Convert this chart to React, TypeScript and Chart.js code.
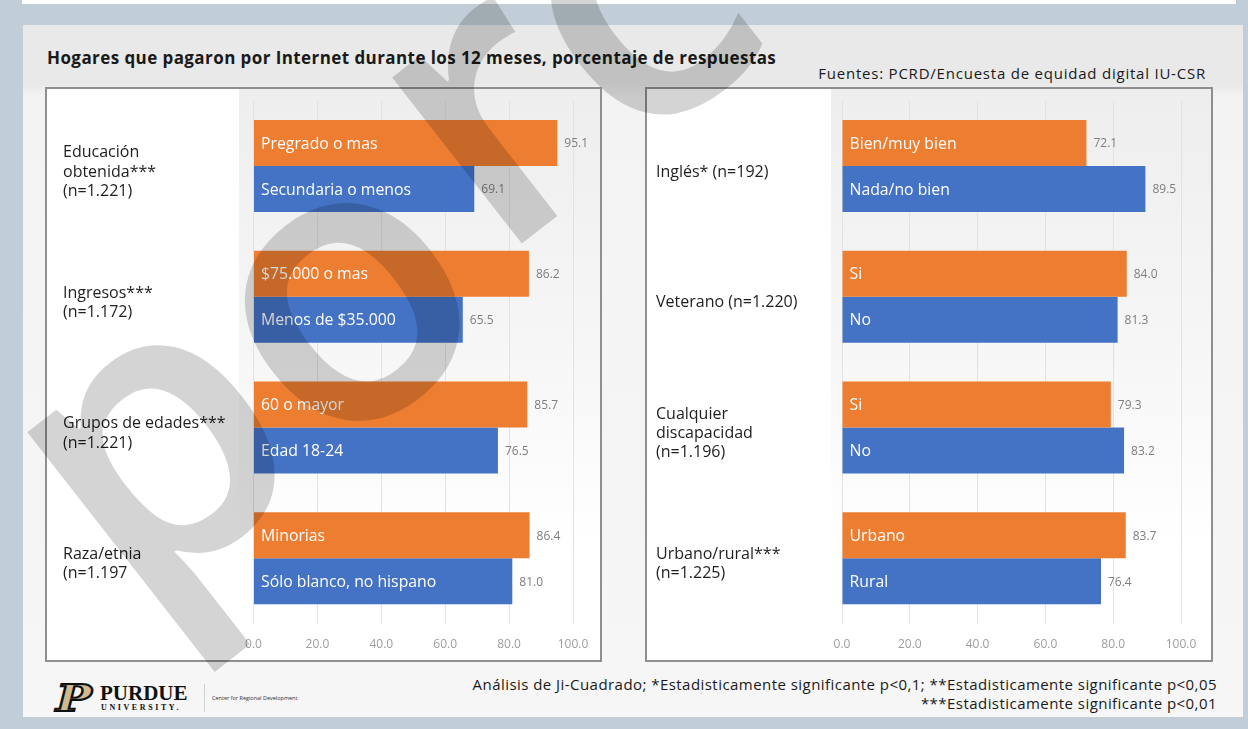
import React, { useEffect, useRef } from 'react';
import { Chart, registerables } from 'chart.js';

Chart.register(...registerables);

// ---------- data ----------
const leftCategories = [
  ['Educación', 'obtenida***', '(n=1.221)'],
  ['Ingresos***', '(n=1.172)'],
  ['Grupos de edades***', '(n=1.221)'],
  ['Raza/etnia', '(n=1.197'],
];
const leftTopLabels = ['Pregrado o mas', '$75.000 o mas', '60 o mayor', 'Minorias'];
const leftTopValues = [95.1, 86.2, 85.7, 86.4];
const leftBottomLabels = ['Secundaria o menos', 'Menos de $35.000', 'Edad 18-24', 'Sólo blanco, no hispano'];
const leftBottomValues = [69.1, 65.5, 76.5, 81.0];

const rightCategories = [
  ['Inglés* (n=192)'],
  ['Veterano (n=1.220)'],
  ['Cualquier', 'discapacidad', '(n=1.196)'],
  ['Urbano/rural***', '(n=1.225)'],
];
const rightTopLabels = ['Bien/muy bien', 'Si', 'Si', 'Urbano'];
const rightTopValues = [72.1, 84.0, 79.3, 83.7];
const rightBottomLabels = ['Nada/no bien', 'No', 'No', 'Rural'];
const rightBottomValues = [89.5, 81.3, 83.2, 76.4];

const xMin = 0;
const xMax = 100;
const xStep = 20;

const titleText = 'Hogares que pagaron por Internet durante los 12 meses, porcentaje de respuestas';
const sourceText = 'Fuentes: PCRD/Encuesta de equidad digital IU-CSR';
const noteLine1 = 'Análisis de Ji-Cuadrado; *Estadisticamente significante p<0,1; **Estadisticamente significante p<0,05';
const noteLine2 = '***Estadisticamente significante p<0,01';
const watermarkHead = 'po';
const watermarkTail = 'rcentaje';

const ORANGE = '#ED7D31';
const BLUE = '#4472C4';
const FONT = '"Open Sans", "Noto Sans", sans-serif';

const barLabelsPlugin = {
  id: 'barLabels',
  afterDatasetsDraw(chart: any, _args: any, opts: any) {
    const ctx = chart.ctx;
    const names: string[][] = opts.names || [];
    chart.data.datasets.forEach((ds: any, di: number) => {
      const meta = chart.getDatasetMeta(di);
      meta.data.forEach((bar: any, i: number) => {
        const p = bar.getProps(['x', 'y', 'base'], true);
        ctx.save();
        ctx.textBaseline = 'middle';
        ctx.textAlign = 'left';
        ctx.font = '15.8px ' + FONT;
        ctx.fillStyle = '#ffffff';
        if (names[di]) ctx.fillText(names[di][i], p.base + 7, p.y + 1);
        ctx.font = '12px ' + FONT;
        ctx.fillStyle = '#7e7e7e';
        ctx.fillText(Number(ds.data[i]).toFixed(1), p.x + 7, p.y + 1);
        ctx.restore();
      });
    });
  },
};

type PanelProps = {
  categories: string[][];
  topLabels: string[];
  topValues: number[];
  bottomLabels: string[];
  bottomValues: number[];
  width: number;
  height: number;
  padLeft: number;
  padRight: number;
  padTop: number;
  yAxisWidth: number;
  xAxisHeight: number;
};

function BarPanel(props: PanelProps) {
  const ref = useRef<HTMLCanvasElement>(null);
  useEffect(() => {
    if (!ref.current) return;
    const chart = new Chart(ref.current, {
      type: 'bar',
      data: {
        labels: props.categories as any,
        datasets: [
          { data: props.topValues, backgroundColor: ORANGE, categoryPercentage: 0.704, barPercentage: 1 },
          { data: props.bottomValues, backgroundColor: BLUE, categoryPercentage: 0.704, barPercentage: 1 },
        ],
      },
      options: {
        indexAxis: 'y',
        responsive: false,
        animation: false,
        layout: { padding: { left: props.padLeft, right: props.padRight, top: props.padTop, bottom: 0 } },
        plugins: {
          legend: { display: false },
          tooltip: { enabled: false },
          barLabels: { names: [props.topLabels, props.bottomLabels] },
        } as any,
        scales: {
          x: {
            min: xMin,
            max: xMax,
            ticks: {
              stepSize: xStep,
              callback: (v: any) => Number(v).toFixed(1),
              color: '#9e9e9e',
              font: { family: FONT, size: 12 },
              padding: 14,
            },
            grid: { color: '#e2e2e2', drawTicks: false },
            border: { display: false },
            afterFit: (s: any) => { s.height = props.xAxisHeight; s.paddingLeft = 0; s.paddingRight = 0; },
          },
          y: {
            ticks: {
              crossAlign: 'far',
              color: '#1e1e1e',
              font: { family: FONT, size: 16, lineHeight: 1.2 },
              labelOffset: 6,
              padding: 0,
            },
            grid: { display: false },
            border: { display: false },
            afterFit: (s: any) => { s.width = props.yAxisWidth; s.paddingTop = 0; s.paddingBottom = 0; },
          },
        },
      } as any,
      plugins: [barLabelsPlugin],
    });
    return () => chart.destroy();
  }, []);
  return <canvas ref={ref} width={props.width} height={props.height} style={{ display: 'block', width: props.width, height: props.height }} />;
}

const abs = (l: number, t: number, w: number, h: number, extra: any = {}) => ({
  position: 'absolute' as const, left: l, top: t, width: w, height: h, ...extra,
});

export default function App() {
  useEffect(() => {
    document.body.style.margin = '0';
  }, []);
  return (
    <div style={{ position: 'fixed', left: 0, top: 0, width: 1248, height: 729, overflow: 'hidden', background: '#c2ced7', fontFamily: FONT }}>
      {/* top white strip */}
      <div style={abs(22, 0, 1214, 4, { background: '#ffffff' })} />
      {/* main panel */}
      <div style={abs(23, 25, 1220, 692, { background: 'linear-gradient(#e9e9e9 0px, #e9e9e9 58px, #f3f3f3 72px, #f6f6f6 100%)' })} />

      {/* title & source */}
      <div style={abs(47, 46, 820, 24, { fontSize: 17, fontWeight: 700, lineHeight: '24px', color: '#1a1a1a', whiteSpace: 'nowrap', letterSpacing: 0.42 })}>{titleText}</div>
      <div style={abs(600, 63, 606, 20, { fontSize: 15, lineHeight: '20px', color: '#1a1a1a', whiteSpace: 'nowrap', textAlign: 'right', letterSpacing: 0.78 })}>{sourceText}</div>

      {/* left box */}
      <div style={abs(45, 87, 557, 575, { background: '#ffffff', border: '2px solid #8f8f8f', boxSizing: 'border-box' })}>
        <div style={abs(192, 0, 361, 571, { background: 'linear-gradient(#eeeeee 0%, #f6f6f6 45%, #ffffff 80%)' })} />
        <div style={abs(0, 0, 553, 571)}>
          <BarPanel
            categories={leftCategories}
            topLabels={leftTopLabels}
            topValues={leftTopValues}
            bottomLabels={leftBottomLabels}
            bottomValues={leftBottomValues}
            width={553}
            height={571}
            padLeft={16}
            padRight={27}
            padTop={11.7}
            yAxisWidth={190.5}
            xAxisHeight={36.5}
          />
        </div>
      </div>

      {/* right box */}
      <div style={abs(645, 87, 568, 575, { background: '#ffffff', border: '2px solid #8f8f8f', boxSizing: 'border-box' })}>
        <div style={abs(184, 0, 380, 571, { background: 'linear-gradient(#eeeeee 0%, #f6f6f6 45%, #ffffff 80%)' })} />
        <div style={abs(0, 0, 564, 571)}>
          <BarPanel
            categories={rightCategories}
            topLabels={rightTopLabels}
            topValues={rightTopValues}
            bottomLabels={rightBottomLabels}
            bottomValues={rightBottomValues}
            width={564}
            height={571}
            padLeft={9}
            padRight={30}
            padTop={11.7}
            yAxisWidth={186}
            xAxisHeight={36.5}
          />
        </div>
      </div>

      {/* footnotes */}
      <div style={abs(300, 674, 917, 20, { fontSize: 15, lineHeight: '20px', color: '#1a1a1a', whiteSpace: 'nowrap', textAlign: 'right', letterSpacing: 0.45 })}>{noteLine1}</div>
      <div style={abs(300, 693, 917, 20, { fontSize: 15, lineHeight: '20px', color: '#1a1a1a', whiteSpace: 'nowrap', textAlign: 'right', letterSpacing: 0.45 })}>{noteLine2}</div>

      {/* Purdue logo */}
      <div style={abs(56, 678, 44, 40, { fontFamily: '"DejaVu Serif", serif', fontWeight: 900, fontStyle: 'italic', fontSize: 38, lineHeight: '40px', color: '#cfb991', WebkitTextStroke: '2px #111', transform: 'scaleX(1.25)', transformOrigin: 'left center' })}>P</div>
      <div style={abs(100, 683, 110, 20, { fontFamily: '"Liberation Serif", serif', fontWeight: 700, fontSize: 21, lineHeight: '20px', color: '#111', letterSpacing: 0 })}>PURDUE</div>
      <div style={abs(101, 703, 110, 10, { fontFamily: '"Liberation Serif", serif', fontWeight: 700, fontSize: 8, lineHeight: '10px', color: '#111', letterSpacing: 2.6 })}>UNIVERSITY.</div>
      <div style={abs(204, 684, 1, 28, { background: '#cfcfcf' })} />
      <div style={abs(212, 693, 120, 10, { fontSize: 5.5, lineHeight: '10px', color: '#333', whiteSpace: 'nowrap' })}>Center for Regional Development</div>

      {/* watermark */}
      <svg width={1248} height={729} style={{ position: 'absolute', left: 0, top: 0, pointerEvents: 'none' }}>
        <text x={132} y={618} transform="rotate(-38 132 618)" fontFamily="Open Sans" fontWeight={600} fontSize={390} fill="rgba(0,0,0,0.17)">
          {watermarkHead}
          <tspan dx={25} dy={-55}>{watermarkTail}</tspan>
        </text>
      </svg>
    </div>
  );
}
